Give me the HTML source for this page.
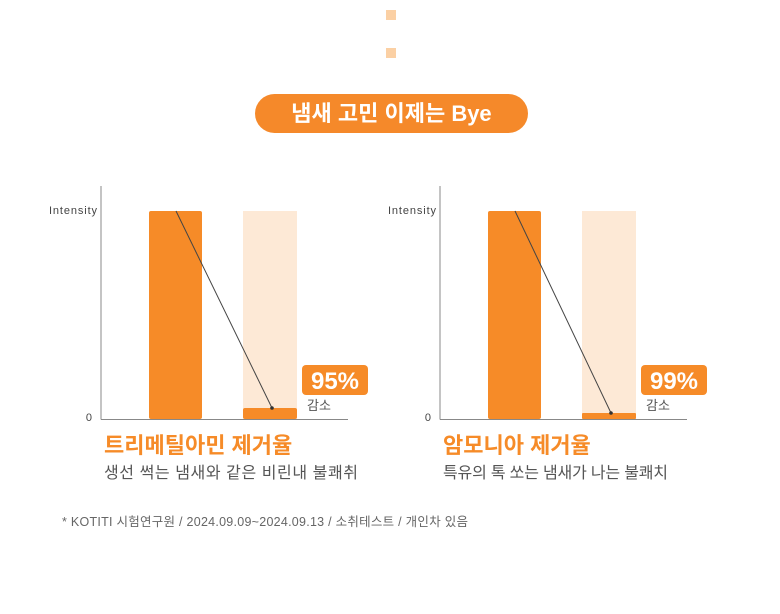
<!DOCTYPE html>
<html><head><meta charset="utf-8"><style>
body{margin:0;width:780px;height:614px;background:#fff;position:relative;overflow:hidden;font-family:"Liberation Sans","Noto Sans CJK KR",sans-serif}
.a{position:absolute}
</style></head><body>
<div class="a" style="left:386px;top:10px;width:10px;height:10px;background:#fbd0a4"></div>
<div class="a" style="left:386px;top:48px;width:10px;height:10px;background:#fbd0a4"></div>
<div class="a" style="left:255px;top:94px;width:273px;height:39px;border-radius:20px;background:#f5892a;color:#fff;font-weight:bold;font-size:22px;line-height:39px;text-align:center">냄새 고민 이제는 Bye</div>
<svg class="a" style="left:0;top:0" width="780" height="614">
<g font-family="Liberation Sans, Noto Sans CJK KR, sans-serif">
<line x1="101" y1="186" x2="101" y2="419.5" stroke="#888" stroke-width="1"/>
<line x1="101" y1="419.5" x2="348" y2="419.5" stroke="#888" stroke-width="1"/>
<text x="49" y="214" font-size="11" fill="#444" textLength="48">Intensity</text>
<text x="92" y="421" font-size="11" fill="#444" text-anchor="end">0</text>
<rect x="149" y="211" width="53" height="208" rx="2" fill="#f68b28"/>
<rect x="243" y="211" width="54" height="208" fill="#fde9d6"/>
<rect x="243" y="408" width="54" height="11" rx="2" fill="#f68b28"/>
<line x1="176" y1="211" x2="272" y2="408" stroke="#444" stroke-width="1"/>
<circle cx="272" cy="408" r="1.8" fill="#333"/>
<rect x="302" y="365" width="66" height="30" rx="4" fill="#f68b28"/>
<text x="335" y="389" font-size="24" font-weight="bold" fill="#fff" text-anchor="middle">95%</text>
<text x="307" y="410" font-size="13" fill="#555">감소</text>
<text x="104" y="453" font-size="22" font-weight="bold" fill="#f68b28">트리메틸아민 제거율</text>
<text x="104" y="478" font-size="16" fill="#555" textLength="254">생선 썩는 냄새와 같은 비린내 불쾌취</text>

<line x1="440" y1="186" x2="440" y2="419.5" stroke="#888" stroke-width="1"/>
<line x1="440" y1="419.5" x2="687" y2="419.5" stroke="#888" stroke-width="1"/>
<text x="388" y="214" font-size="11" fill="#444" textLength="48">Intensity</text>
<text x="431" y="421" font-size="11" fill="#444" text-anchor="end">0</text>
<rect x="488" y="211" width="53" height="208" rx="2" fill="#f68b28"/>
<rect x="582" y="211" width="54" height="208" fill="#fde9d6"/>
<rect x="582" y="413" width="54" height="6" rx="1" fill="#f68b28"/>
<line x1="515" y1="211" x2="611" y2="413" stroke="#444" stroke-width="1"/>
<circle cx="611" cy="413" r="1.8" fill="#333"/>
<rect x="641" y="365" width="66" height="30" rx="4" fill="#f68b28"/>
<text x="674" y="389" font-size="24" font-weight="bold" fill="#fff" text-anchor="middle">99%</text>
<text x="646" y="410" font-size="13" fill="#555">감소</text>
<text x="443" y="453" font-size="22" font-weight="bold" fill="#f68b28">암모니아 제거율</text>
<text x="443" y="478" font-size="16" fill="#555" textLength="225">특유의 톡 쏘는 냄새가 나는 불쾌치</text>

<text x="62" y="526" font-size="12.5" fill="#666" textLength="406">* KOTITI 시험연구원 / 2024.09.09~2024.09.13 / 소취테스트 / 개인차 있음</text>
</g></svg>
</body></html>
